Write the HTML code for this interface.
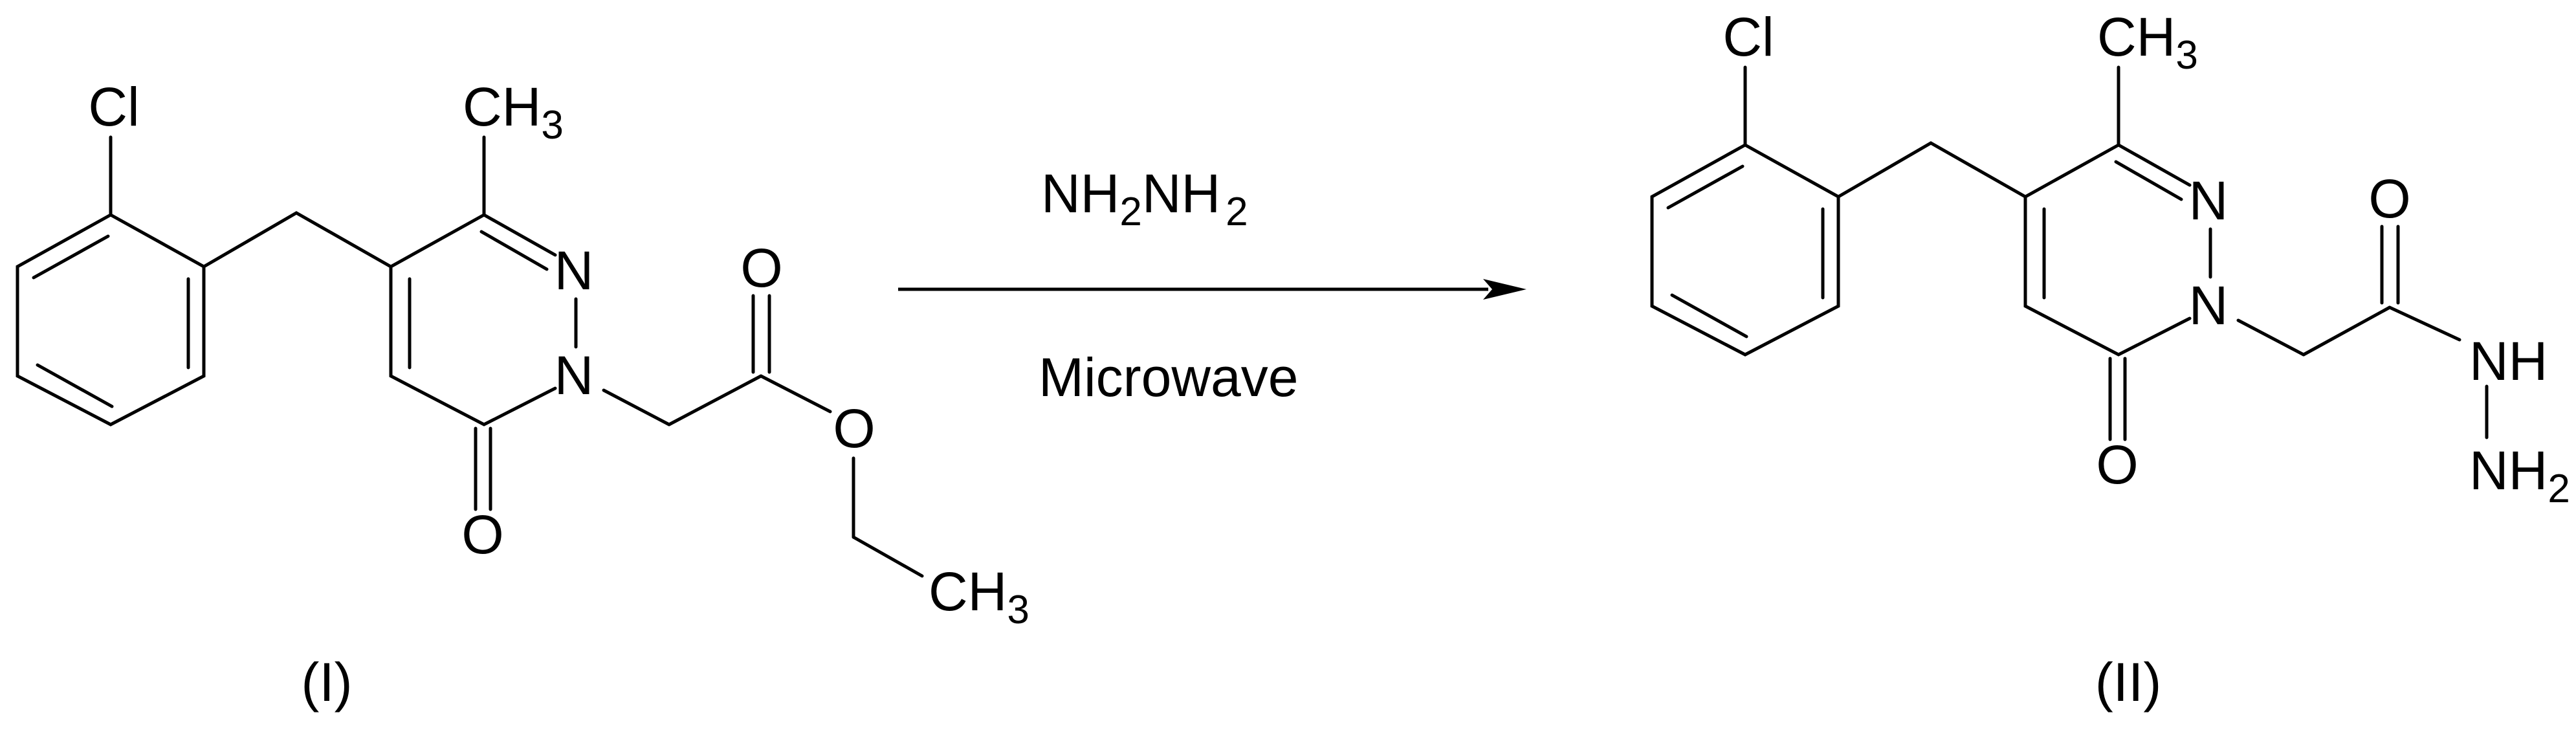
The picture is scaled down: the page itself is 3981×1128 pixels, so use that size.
<!DOCTYPE html>
<html><head><meta charset="utf-8"><style>
html,body{margin:0;padding:0;background:#fff;}
svg{display:block;}
text{font-family:"Liberation Sans",sans-serif;fill:#000;font-size:84px;}
</style></head><body>
<svg width="3981" height="1128" viewBox="0 0 3981 1128" xmlns="http://www.w3.org/2000/svg">
<defs>
<g id="core" stroke="#000" stroke-width="5" fill="none" stroke-linecap="round">
<polyline points="171,332 27,412 27,581 171,656 315,581 315,412 171,332"/>
<line x1="52" y1="429" x2="167" y2="365"/>
<line x1="291" y1="431" x2="291" y2="568"/>
<line x1="58" y1="564" x2="173" y2="628"/>
<line x1="171" y1="332" x2="171" y2="212"/>
<polyline points="315,412 458,329 604,412 748,332"/>
<line x1="748" y1="332" x2="748" y2="212"/>
<line x1="748" y1="332" x2="858" y2="394"/>
<line x1="744" y1="358" x2="845" y2="416"/>
<line x1="890" y1="462" x2="890" y2="536"/>
<polyline points="858,600 748,656 604,581 604,412"/>
<line x1="633" y1="431" x2="633" y2="568"/>
<line x1="735" y1="662" x2="735" y2="787"/>
<line x1="758" y1="662" x2="758" y2="787"/>
<line x1="933" y1="603" x2="1034" y2="656"/>
</g>
</defs>

<!-- Molecule I -->
<use href="#core"/>
<text x="176" y="194" text-anchor="middle">Cl</text>
<text x="715" y="194">CH<tspan font-size="62" dy="20">3</tspan></text>
<text x="887" y="447" text-anchor="middle">N</text>
<text x="887" y="609" text-anchor="middle">N</text>
<text x="746" y="855" text-anchor="middle">O</text>
<g stroke="#000" stroke-width="5" fill="none" stroke-linecap="round">
<line x1="1034" y1="656" x2="1176" y2="581"/>
<line x1="1164" y1="457" x2="1164" y2="575"/>
<line x1="1189" y1="457" x2="1189" y2="575"/>
<line x1="1176" y1="581" x2="1283" y2="636"/>
<line x1="1319" y1="708" x2="1319" y2="830"/>
<line x1="1319" y1="830" x2="1425" y2="890"/>
</g>
<text x="1177" y="443" text-anchor="middle">O</text>
<text x="1320" y="691" text-anchor="middle">O</text>
<text x="1435" y="943">CH<tspan font-size="62" dy="20">3</tspan></text>
<text x="505" y="1083" text-anchor="middle" font-size="90">(I)</text>

<!-- Arrow -->
<line x1="1388" y1="447" x2="2300" y2="447" stroke="#000" stroke-width="5"/>
<polygon points="2359,447 2292,431 2306,447 2292,463" fill="#000"/>
<text x="1609" y="328">NH<tspan font-size="62" dy="20">2</tspan><tspan dy="-20">NH</tspan><tspan font-size="62" dy="20" dx="8">2</tspan></text>
<text x="1605" y="612">Microwave</text>

<!-- Molecule II -->
<g transform="translate(2526,-108)">
<use href="#core"/>
<text x="176" y="194" text-anchor="middle">Cl</text>
<text x="715" y="194">CH<tspan font-size="62" dy="20">3</tspan></text>
<text x="887" y="447" text-anchor="middle">N</text>
<text x="887" y="609" text-anchor="middle">N</text>
<text x="746" y="855" text-anchor="middle">O</text>
</g>
<g stroke="#000" stroke-width="5" fill="none" stroke-linecap="round">
<line x1="3560" y1="548" x2="3693" y2="475"/>
<line x1="3681" y1="350" x2="3681" y2="468"/>
<line x1="3706" y1="350" x2="3706" y2="468"/>
<line x1="3693" y1="475" x2="3801" y2="525"/>
<line x1="3843" y1="597" x2="3843" y2="676"/>
</g>
<text x="3693" y="336" text-anchor="middle">O</text>
<text x="3816" y="587">NH</text>
<text x="3816" y="756">NH<tspan font-size="62" dy="20">2</tspan></text>
<text x="3289" y="1083" text-anchor="middle" font-size="90">(II)</text>
</svg>
</body></html>
